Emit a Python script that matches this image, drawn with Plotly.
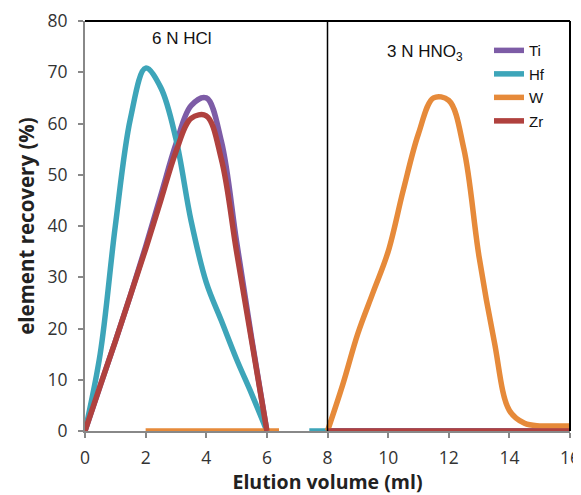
import plotly.graph_objects as go

# ---- data ----
x_hcl = [0, 0.5, 1, 1.5, 2, 2.5, 3, 3.5, 4, 4.5, 5, 5.5, 6]
ti_hcl = [0, 8.8, 17.5, 26.5, 36, 46, 56, 63.5, 65, 56.5, 37, 18, 0]
hf_hcl = [0, 15, 40, 61, 70.8, 67, 57, 41, 29, 21.5, 14, 7.2, 0]
zr_hcl = [0, 8.8, 17.5, 26.5, 35.5, 45, 54.5, 61, 61.5, 53, 35, 17.5, 0]

x_w_hcl = [2, 4, 6, 6.4]
w_hcl = [0, 0, 0, 0]

x_hno3 = [8, 8.5, 9, 9.5, 10, 10.5, 11, 11.5, 12, 12.5, 13, 13.5, 14, 14.5, 15, 15.5, 16]
w_hno3 = [0, 9, 19, 27, 35, 47, 58, 65, 64.5, 55, 34, 17.5, 4, 1.5, 1, 1, 1]
ti_hno3 = [0] * len(x_hno3)
zr_hno3 = [0] * len(x_hno3)

x_hf_tail = [7.4, 8, 10, 12, 14, 16]
hf_tail = [0, 0, 0, 0, 0, 0]

x_ticks = [0, 2, 4, 6, 8, 10, 12, 14, 16]
y_ticks = [0, 10, 20, 30, 40, 50, 60, 70, 80]

colors = {"Ti": "#7D5CA6", "Hf": "#3DA5B9", "W": "#E68A3A", "Zr": "#B0413E"}
LW = 5.5

fig = go.Figure()

def add(name, xs, ys, show):
    fig.add_trace(go.Scatter(
        x=xs, y=ys, mode="lines", name=name, legendgroup=name,
        showlegend=show,
        line=dict(color=colors[name], width=LW, shape="spline", smoothing=1.0),
        hoverinfo="skip"))

# drawing order (Zr on top); legend groups in order Ti, Hf, W, Zr
add("Ti", x_hcl, ti_hcl, True)
add("Hf", x_hcl, hf_hcl, True)
add("W", x_w_hcl, w_hcl, True)
add("Hf", x_hf_tail, hf_tail, False)
add("Ti", x_hno3, ti_hno3, False)
add("W", x_hno3, w_hno3, False)
add("Zr", x_hcl, zr_hcl, True)
add("Zr", x_hno3, zr_hno3, False)

# page body has an 8px margin, so the figure is sized/margined to compensate
fig.update_layout(
    width=573, height=487,
    margin=dict(l=77, r=11, t=13, b=64, autoexpand=False),
    paper_bgcolor="white", plot_bgcolor="white",
    font=dict(family="'Open Sans', sans-serif", color="#333333"),
    showlegend=True,
    legend=dict(
        x=0.833, y=0.968, xanchor="left", yanchor="top",
        bgcolor="rgba(0,0,0,0)", itemwidth=30,
        font=dict(family="Liberation Sans, Arial, sans-serif", size=15, color="#111111"),
        traceorder="grouped", tracegroupgap=1,
    ),
    xaxis=dict(
        range=[0, 16], tickvals=x_ticks, ticktext=[str(v) for v in x_ticks],
        showgrid=False, zeroline=False,
        showline=True, linecolor="#888888", linewidth=2, layer="below traces",
        ticks="outside", ticklen=5, tickwidth=2, tickcolor="#888888",
        ticklabelstandoff=5,
        tickfont=dict(size=17.5, color="#333333"),
        title=dict(text="<b>Elution volume (ml)</b>",
                   font=dict(size=19.5, color="#222222"), standoff=13),
    ),
    yaxis=dict(
        range=[0, 80], tickvals=y_ticks, ticktext=[str(v) for v in y_ticks],
        showgrid=False, zeroline=False,
        showline=True, linecolor="#888888", linewidth=2, layer="below traces",
        ticks="outside", ticklen=5, tickwidth=2, tickcolor="#888888",
        ticklabelstandoff=7,
        tickfont=dict(size=17.5, color="#333333"),
        title=dict(text="<b>element recovery (%)</b>",
                   font=dict(size=20.5, color="#222222"), standoff=7),
    ),
    shapes=[
        dict(type="line", xref="paper", yref="paper", x0=0, x1=1, y0=1, y1=1,
             line=dict(color="black", width=2)),
        dict(type="line", xref="paper", yref="paper", x0=1, x1=1, y0=0, y1=1,
             line=dict(color="black", width=2)),
        dict(type="line", xref="x", yref="paper", x0=8, x1=8, y0=0, y1=1,
             line=dict(color="black", width=1.5)),
    ],
    annotations=[
        dict(x=3.2, y=76.5, xref="x", yref="y", text="6 N HCl", showarrow=False,
             font=dict(family="Liberation Sans, Arial, sans-serif", size=17, color="#111111")),
        dict(x=11.2, y=73.8, xref="x", yref="y", text="3 N HNO<sub>3</sub>", showarrow=False,
             font=dict(family="Liberation Sans, Arial, sans-serif", size=17, color="#111111")),
    ],
)

fig.write_html("out.html")
